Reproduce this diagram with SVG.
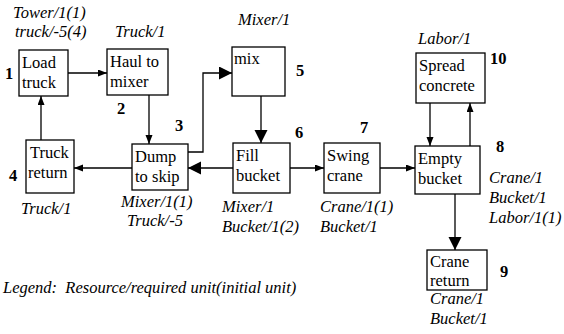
<svg xmlns="http://www.w3.org/2000/svg" width="564" height="334" viewBox="0 0 564 334">
<style>
text{font-family:"Liberation Serif","Times New Roman",serif;font-size:16.5px;fill:#000}
.it{font-style:italic}
.num{font-weight:bold}
.box{fill:#fff;stroke:#000;stroke-width:1.3}
.con{fill:none;stroke:#000;stroke-width:1.3}
.s{marker-end:url(#sm)}
.l{marker-end:url(#lg)}
</style>
<defs>
<marker id="sm" markerUnits="userSpaceOnUse" markerWidth="10" markerHeight="8" refX="9" refY="3.5" orient="auto"><path d="M0,0 L9,3.5 L0,7 z" fill="#000"/></marker>
<marker id="lg" markerUnits="userSpaceOnUse" markerWidth="14" markerHeight="14" refX="13" refY="6.5" orient="auto"><path d="M0,0 L13,6.5 L0,13 z" fill="#000"/></marker>
</defs>
<rect width="564" height="334" fill="#fff"/>
<g id="connectors">
<path class="con s" d="M68,73 H107"/>
<path class="con s" d="M149,95 V144"/>
<path class="con l" d="M188,152 H203 V73 H232"/>
<path class="con l" d="M261,96 V143"/>
<path class="con l" d="M233,168 H188"/>
<path class="con s" d="M132,168 H74"/>
<path class="con s" d="M41,140 V96"/>
<path class="con s" d="M290,168 H324"/>
<path class="con s" d="M380,168 H415"/>
<path class="con s" d="M430,103 V146"/>
<path class="con s" d="M470,146 V103"/>
<path class="con l" d="M455,194 V250"/>
</g>
<g id="n1">
<rect class="box" x="19" y="50" width="49" height="46"/>
<text x="22" y="68">Load</text><text x="22" y="88">truck</text>
<text class="num" x="5" y="79">1</text>
<text class="it" x="13" y="18">Tower/1(1)</text>
<text class="it" x="15" y="37">truck/-5(4)</text>
</g>
<g id="n2">
<rect class="box" x="107" y="49" width="61" height="46"/>
<text x="110" y="67">Haul to</text><text x="110" y="87">mixer</text>
<text class="num" x="117" y="114">2</text>
<text class="it" x="115" y="37">Truck/1</text>
</g>
<g id="n3">
<rect class="box" x="132" y="144" width="56" height="46"/>
<text x="135" y="162">Dump</text><text x="135" y="182">to skip</text>
<text class="num" x="175" y="131">3</text>
<text class="it" x="121" y="207">Mixer/1(1)</text>
<text class="it" x="127" y="226">Truck/-5</text>
</g>
<g id="n4">
<rect class="box" x="26" y="140" width="48" height="53"/>
<text x="30" y="158">Truck</text><text x="28" y="178">return</text>
<text class="num" x="9" y="181">4</text>
<text class="it" x="21" y="214">Truck/1</text>
</g>
<g id="n5">
<rect class="box" x="232" y="47" width="53" height="49"/>
<text x="234" y="64">mix</text>
<text class="num" x="296" y="76">5</text>
<text class="it" x="238" y="25">Mixer/1</text>
</g>
<g id="n6">
<rect class="box" x="233" y="143" width="57" height="50"/>
<text x="236" y="161">Fill</text><text x="236" y="181">bucket</text>
<text class="num" x="295" y="138">6</text>
<text class="it" x="222" y="212">Mixer/1</text>
<text class="it" x="222" y="232">Bucket/1(2)</text>
</g>
<g id="n7">
<rect class="box" x="324" y="143" width="56" height="50"/>
<text x="327" y="161">Swing</text><text x="327" y="181">crane</text>
<text class="num" x="360" y="133">7</text>
<text class="it" x="320" y="212">Crane/1(1)</text>
<text class="it" x="320" y="232">Bucket/1</text>
</g>
<g id="n8">
<rect class="box" x="415" y="146" width="65" height="48"/>
<text x="418" y="164">Empty</text><text x="418" y="184">bucket</text>
<text class="num" x="496" y="152">8</text>
<text class="it" x="489" y="183">Crane/1</text>
<text class="it" x="489" y="203">Bucket/1</text>
<text class="it" x="489" y="223">Labor/1(1)</text>
</g>
<g id="n9">
<rect class="box" x="427" y="250" width="60" height="40"/>
<text x="430" y="267">Crane</text><text x="430" y="286">return</text>
<text class="num" x="500" y="277">9</text>
<text class="it" x="430" y="304">Crane/1</text>
<text class="it" x="430" y="324">Bucket/1</text>
</g>
<g id="n10">
<rect class="box" x="416" y="53" width="69" height="50"/>
<text x="419" y="71">Spread</text><text x="419" y="91">concrete</text>
<text class="num" x="490" y="64">10</text>
<text class="it" x="418" y="44">Labor/1</text>
</g>
<text class="it" x="3" y="293" xml:space="preserve">Legend:  Resource/required unit(initial unit)</text>
</svg>
